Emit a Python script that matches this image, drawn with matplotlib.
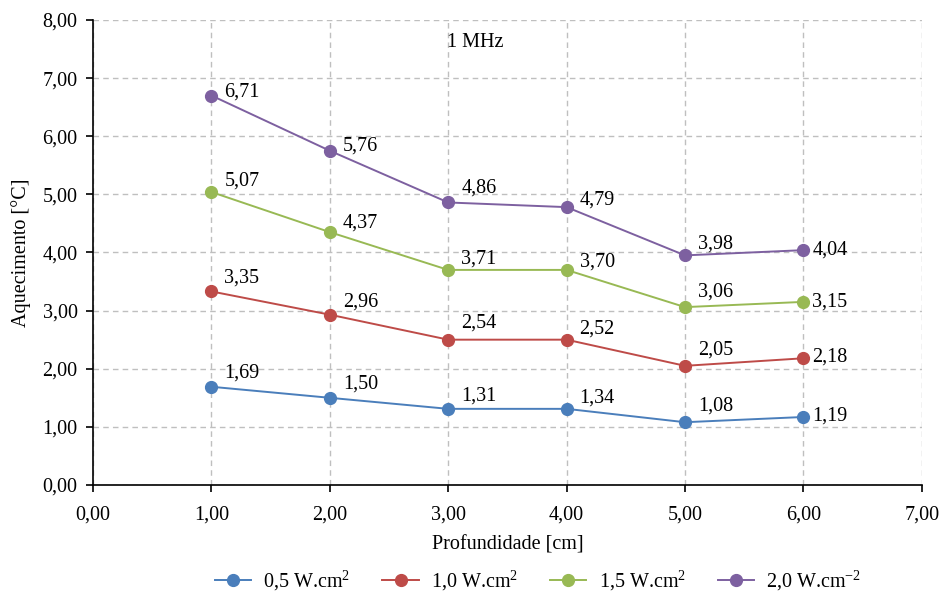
import matplotlib.pyplot as plt
import numpy as np

plt.rcParams['font.family'] = ['Liberation Serif', 'DejaVu Serif']
plt.rcParams['mathtext.fontset'] = 'custom'
plt.rcParams['mathtext.rm'] = 'Liberation Serif'
plt.rcParams['mathtext.default'] = 'rm'

# depth (cm)
depth = [1, 2, 3, 4, 5, 6]

# heating values as plotted
s05 = [1.69, 1.50, 1.31, 1.31, 1.08, 1.17]
s10 = [3.33, 2.93, 2.50, 2.50, 2.05, 2.18]
s15 = [5.04, 4.35, 3.70, 3.70, 3.06, 3.15]
s20 = [6.70, 5.75, 4.86, 4.78, 3.95, 4.04]

# data labels as printed
lab05 = ['1,69', '1,50', '1,31', '1,34', '1,08', '1,19']
lab10 = ['3,35', '2,96', '2,54', '2,52', '2,05', '2,18']
lab15 = ['5,07', '4,37', '3,71', '3,70', '3,06', '3,15']
lab20 = ['6,71', '5,76', '4,86', '4,79', '3,98', '4,04']

names = ['0,5 W.cm$^{2}$', '1,0 W.cm$^{2}$', '1,5 W.cm$^{2}$', '2,0 W.cm$^{-2}$']
colors = ['#4a7ebb', '#be4b48', '#98b954', '#7d60a0']

fig = plt.figure(figsize=(9.44, 5.97), dpi=100)
ax = fig.add_axes([0.0985, 0.1876, 0.878, 0.779])

series = [(s05, lab05), (s10, lab10), (s15, lab15), (s20, lab20)]
# label offsets (pixels above the point)
lift = [[14, 14, 13, 11, 16, 1],
        [13, 13, 17, 11, 16, 1],
        [11, 9, 11, 8, 15, 0],
        [3, 5, 14, 7, 11, 0]]
dx = [13, 13, 13, 13, 13, 9]

for (vals, labs), name, c, up in zip(series, names, colors, lift):
    ax.plot(depth, vals, color=c, lw=1.4, marker='o', ms=8.5, label=name)
    for x, y, t, ox, oy in zip(depth, vals, labs, dx, up):
        ax.annotate(t, (x, y), xytext=(ox * 0.72, oy * 0.72), textcoords='offset points',
                    ha='left', va='center', fontsize=14.5)

ax.set_xlim(0, 7)
ax.set_ylim(0, 8)
ax.set_xticks(np.arange(0, 8, 1))
ax.set_yticks(np.arange(0, 9, 1))
ax.set_xticklabels([f'{v:.2f}'.replace('.', ',') for v in range(8)])
ax.set_yticklabels([f'{v:.2f}'.replace('.', ',') for v in range(9)])
ax.tick_params(labelsize=14.5, direction='out', length=5, width=1.2)
ax.tick_params(axis='x', pad=10)
ax.tick_params(axis='y', pad=6)
ax.grid(True, ls=(0, (4, 3)), color='#bfbfbf', lw=1)
ax.set_axisbelow(True)
for s in ['top', 'right']:
    ax.spines[s].set_visible(False)
for s in ['left', 'bottom']:
    ax.spines[s].set_linewidth(1.2)

ax.set_xlabel('Profundidade [cm]', fontsize=14.5, labelpad=8)
ax.set_ylabel('Aquecimento [°C]', fontsize=14.5, labelpad=8)
ax.text(2.99, 7.62, '1 MHz', fontsize=14.5, ha='left', va='center')

fig.legend(loc='center', ncol=4, frameon=False, fontsize=14.5,
           bbox_to_anchor=(0.57, 0.027), handlelength=1.8, columnspacing=1.6,
           handletextpad=0.6)

fig.savefig('out.png', dpi=100)
